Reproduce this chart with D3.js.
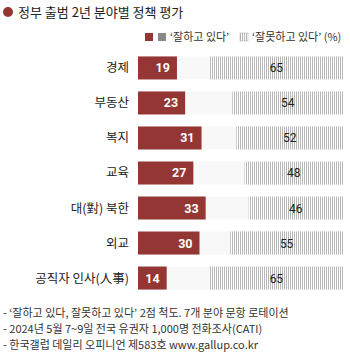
<!DOCTYPE html>
<html><head><meta charset="utf-8">
<script src="https://cdn.jsdelivr.net/npm/d3@7"></script>
<style>body{margin:0;background:#fff}svg{display:block;font-family:"Noto Sans CJK KR","Noto Sans",sans-serif}</style>
</head><body><svg id="c" width="350" height="362"></svg>
<script>
const categories = ["경제","부동산","복지","교육","대(對) 북한","외교","공직자 인사(人事)"];
const positive = [19,23,31,27,33,30,14];
const negative = [65,54,52,48,46,55,65];
const notes = [
  "- ‘잘하고 있다, 잘못하고 있다’ 2점 척도. 7개 분야 문항 로테이션",
  "- 2024년 5월 7~9일 전국 유권자 1,000명 전화조사(CATI)",
  "- 한국갤럽 데일리 오피니언 제583호 www.gallup.co.kr"
];

const RED = "#943634";
const svg = d3.select("#c");
const defs = svg.append("defs");
const pat = defs.append("pattern").attr("id","stripe").attr("patternUnits","userSpaceOnUse")
  .attr("width",2).attr("height",4);
pat.append("rect").attr("width",2).attr("height",4).attr("fill","#fff");
pat.append("rect").attr("width",1).attr("height",4).attr("fill","#b8b8b8");

// title
svg.append("circle").attr("cx",8).attr("cy",12).attr("r",5).attr("fill",RED);
svg.append("text").attr("x",18).attr("y",17).attr("font-size",13).attr("fill","#222")
  .text("정부 출범 2년 분야별 정책 평가");

// legend
const lg = svg.append("g").attr("font-size",11).attr("fill","#333");
lg.append("rect").attr("x",145).attr("y",33).attr("width",8).attr("height",8).attr("fill",RED);
lg.append("rect").attr("x",158).attr("y",33).attr("width",8).attr("height",8).attr("fill","#888");
lg.append("text").attr("x",170).attr("y",41).text("‘잘하고 있다’");
lg.append("rect").attr("x",240).attr("y",33).attr("width",8).attr("height",8).attr("fill","url(#stripe)").attr("stroke","#aaa").attr("stroke-width",0.5);
lg.append("text").attr("x",252).attr("y",41).text("‘잘못하고 있다’ (%)");

const x = d3.scaleLinear().domain([0,100]).range([138,343]);
const y = d3.scaleBand().domain(categories).range([50.5,295.5]).paddingInner(0.343).paddingOuter(0.17);

const rows = svg.append("g").selectAll("g").data(categories).join("g")
  .attr("transform", d => `translate(0,${y(d)})`);
const bh = y.bandwidth();

rows.append("rect").attr("x",x(0)).attr("width",x(100)-x(0)).attr("height",bh).attr("fill","#f8f8f8");
rows.append("rect").attr("x",x(0)).attr("width",(d,i)=>x(positive[i])-x(0)).attr("height",bh).attr("fill",RED);
rows.append("rect").attr("x",(d,i)=>x(100-negative[i])).attr("width",(d,i)=>x(100)-x(100-negative[i]))
  .attr("height",bh).attr("fill","url(#stripe)");

rows.append("text").attr("x",(d,i)=>x(positive[i])-7).attr("y",bh/2+4.5).attr("text-anchor","end")
  .attr("font-size",12.5).attr("font-weight","bold").attr("fill","#fff").attr("font-family","Roboto, 'Noto Sans', sans-serif")
  .text((d,i)=>positive[i]);
rows.append("text").attr("x",(d,i)=>(x(100-negative[i])+x(100))/2).attr("y",bh/2+4.5).attr("text-anchor","middle")
  .attr("font-size",12).attr("fill","#222").attr("font-family","Roboto, 'Noto Sans', sans-serif")
  .text((d,i)=>negative[i]);

rows.append("text").attr("x",129).attr("y",bh/2+4.5).attr("text-anchor","end")
  .attr("font-size",12.5).attr("fill","#222").text(d=>d);

svg.append("g").selectAll("text").data(notes).join("text")
  .attr("x",3).attr("y",(d,i)=>317+i*16).attr("font-size",11).attr("fill","#333").text(d=>d);
</script></body></html>
